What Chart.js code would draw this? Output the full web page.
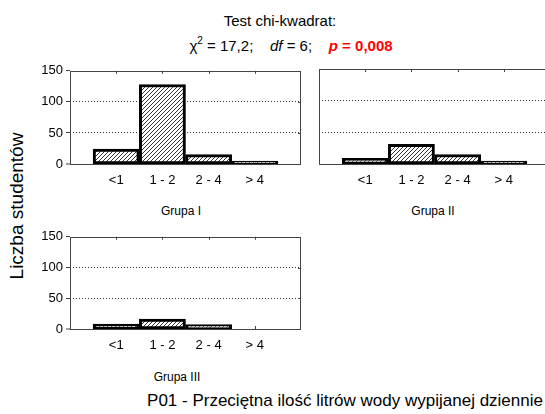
<!DOCTYPE html>
<html>
<head>
<meta charset="utf-8">
<script src="https://cdn.jsdelivr.net/npm/chart.js@4/dist/chart.umd.min.js"></script>
<style>
  html, body { margin: 0; padding: 0; width: 545px; height: 414px; overflow: hidden; background: #fff; }
  body { position: relative; font-family: "Liberation Sans", Arial, sans-serif; color: #000; }
  .t { position: absolute; white-space: nowrap; transform: translate(-50%, -50%); line-height: 1; }
  canvas { position: absolute; }
</style>
</head>
<body>
<div class="t" style="left:280px; top:20px; font-size:15px;">Test chi-kwadrat:</div>
<div class="t" style="left:291px; top:44px; font-size:15px;">&chi;<sup style="font-size:10px; vertical-align:7px;">2</sup> = 17,2;&nbsp;&nbsp;&nbsp;&nbsp;<i>df</i> = 6;&nbsp;&nbsp;&nbsp;&nbsp;<b style="color:#ff0000;"><i>p</i> = 0,008</b></div>
<div class="t" style="left:16px; top:206px; font-size:19px; transform: translate(-50%, -50%) rotate(-90deg);">Liczba studentów</div>
<div class="t" style="left:181px; top:211px; font-size:12px;">Grupa I</div>
<div class="t" style="left:433px; top:211px; font-size:12px;">Grupa II</div>
<div class="t" style="left:177px; top:377px; font-size:12px;">Grupa III</div>
<div class="t" style="left:345px; top:400px; font-size:17px;">P01 - Przeciętna ilość litrów wody wypijanej dziennie</div>

<canvas id="c1" width="310" height="130" style="left:0px; top:60px; width:310px; height:130px;"></canvas>
<canvas id="c2" width="250" height="130" style="left:310px; top:60px; width:250px; height:130px;"></canvas>
<canvas id="c3" width="310" height="130" style="left:0px; top:226px; width:310px; height:130px;"></canvas>

<script>
// ---- data ----
const categories = ['<1', '1 - 2', '2 - 4', '> 4'];
const grupaI = [24, 128, 15, 1];
const grupaII = [9, 31, 15, 1];
const grupaIII = [8, 16, 7, 0];
const yTicks = [0, 50, 100, 150];

// hatch pattern
function hatch() {
  const c = document.createElement('canvas');
  c.width = 4; c.height = 4;
  const g = c.getContext('2d');
  g.fillStyle = '#ffffff';
  g.fillRect(0, 0, 4, 4);
  g.strokeStyle = '#333333';
  g.lineWidth = 1;
  g.beginPath();
  g.moveTo(0, 4); g.lineTo(4, 0);
  g.moveTo(-1, 1); g.lineTo(1, -1);
  g.moveTo(3, 5); g.lineTo(5, 3);
  g.stroke();
  return g.createPattern(c, 'repeat');
}

const framePlugin = {
  id: 'frame',
  beforeDatasetsDraw(chart) {
    const a = chart.chartArea, ctx = chart.ctx;
    const xs = chart.scales.x, ys = chart.scales.y;
    ctx.save();
    ctx.strokeStyle = '#444444';
    ctx.lineWidth = 1;
    ctx.strokeRect(Math.round(a.left) + 0.5, Math.round(a.top) + 0.5,
                   Math.round(a.right - a.left) - 1, Math.round(a.bottom - a.top));
    ctx.beginPath();
    for (let i = 1; i <= categories.length; i++) {
      const x = Math.round(xs.getPixelForValue(i)) + 0.5;
      ctx.moveTo(x, a.top); ctx.lineTo(x, a.top + 3);
      ctx.moveTo(x, a.bottom); ctx.lineTo(x, a.bottom - 3);
    }
    yTicks.forEach(v => {
      const y = Math.round(ys.getPixelForValue(v)) + 0.5;
      ctx.moveTo(a.right, y); ctx.lineTo(a.right - 3, y);
    });
    ctx.stroke();
    ctx.restore();
  }
};

function makeChart(id, values, showY, yWidth, plotH, rightPad) {
  const labels = [''].concat(categories, ['']);
  const data = [null].concat(values.map(v => v === 0 ? null : v), [null]);
  const canvasH = 130;
  const topPad = 9;
  return new Chart(document.getElementById(id), {
    type: 'bar',
    data: {
      labels: labels,
      datasets: [{
        data: data,
        backgroundColor: hatch(),
        borderColor: '#000000',
        borderWidth: 3,
        borderSkipped: false,
        barPercentage: 1,
        categoryPercentage: 1,
        minBarLength: 3
      }]
    },
    options: {
      responsive: false,
      animation: false,
      events: [],
      layout: { padding: { top: topPad, right: rightPad, left: 0, bottom: 0 } },
      plugins: { legend: { display: false }, tooltip: { enabled: false }, title: { display: false } },
      scales: {
        x: {
          type: 'category',
          offset: false,
          grid: { display: false, drawTicks: false },
          border: { display: false },
          ticks: {
            autoSkip: false, maxRotation: 0, minRotation: 0,
            color: '#000', font: { family: '"Liberation Sans", Arial, sans-serif', size: 13 },
            padding: 9
          },
          afterFit(scale) { scale.height = canvasH - topPad - plotH; }
        },
        y: {
          min: 0, max: 150,
          afterBuildTicks(scale) { scale.ticks = yTicks.map(v => ({ value: v })); },
          grid: {
            color: ctx => (ctx.tick && (ctx.tick.value === 50 || ctx.tick.value === 100)) ? '#333333' : 'rgba(0,0,0,0)',
            lineWidth: ctx => (ctx.tick && ctx.tick.value === 0) ? 0 : 1,
            drawTicks: showY,
            tickLength: 4,
            tickWidth: 1,
            tickColor: '#444444',
            tickBorderDash: []
          },
          border: { display: false, dash: [1, 2] },
          ticks: {
            display: showY,
            color: '#000', font: { family: '"Liberation Sans", Arial, sans-serif', size: 13 },
            padding: 3
          },
          afterFit(scale) { scale.width = yWidth; }
        }
      }
    },
    plugins: [framePlugin]
  });
}

makeChart('c1', grupaI, true, 70, 95, 8);
makeChart('c2', grupaII, false, 8, 95, 10);
makeChart('c3', grupaIII, true, 70, 94, 8);
</script>
</body>
</html>
